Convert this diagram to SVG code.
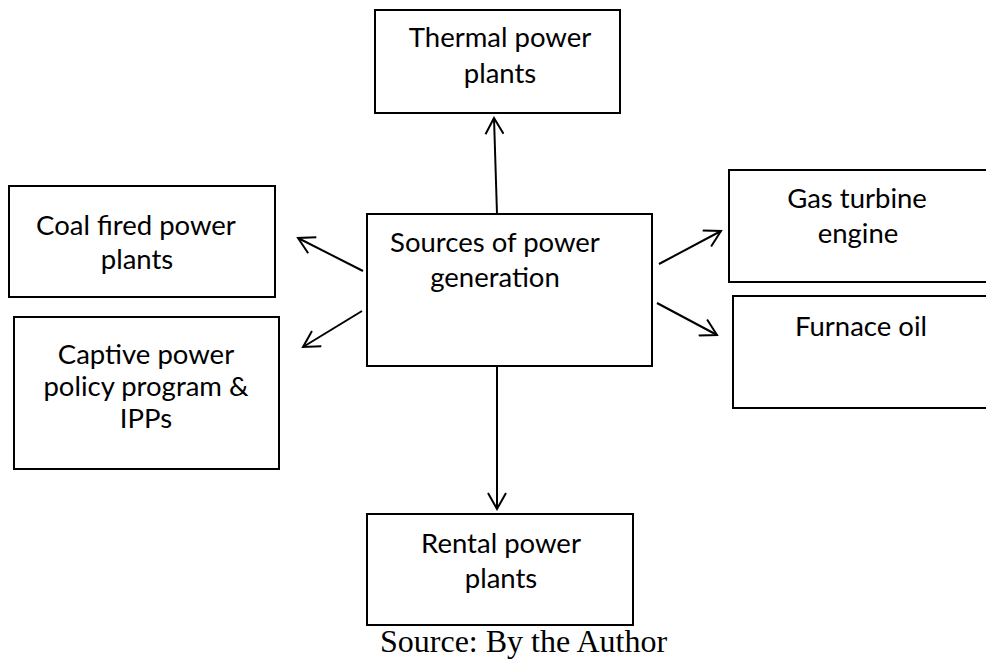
<svg xmlns="http://www.w3.org/2000/svg" width="986" height="660" viewBox="0 0 986 660">
<defs>
<style>
.box{fill:#fff;stroke:#000;stroke-width:2}
.lbl{font-family:Lato,"Liberation Sans",sans-serif;font-size:27.5px;fill:#000;text-anchor:middle}
.src{font-family:"Liberation Serif",serif;font-size:32px;fill:#000}
.conn{stroke:#000;stroke-width:2;fill:none;marker-end:url(#arr)}
</style>
<marker id="arr" viewBox="0 0 20 20" refX="18" refY="10" markerWidth="20" markerHeight="20" markerUnits="userSpaceOnUse" orient="auto">
<path d="M2,1 L18,10 L2,19" fill="none" stroke="#000" stroke-width="2"/>
</marker>
</defs>
<rect width="986" height="660" fill="#fff"/>
<g id="thermal">
<rect class="box" x="375" y="10" width="245" height="103"/>
<text class="lbl" x="500" y="47">Thermal power</text>
<text class="lbl" x="500" y="83">plants</text>
</g>
<g id="sources">
<rect class="box" x="367" y="214" width="285" height="152"/>
<text class="lbl" x="495" y="252">Sources of power</text>
<text class="lbl" x="495" y="287">generation</text>
</g>
<g id="coal">
<rect class="box" x="9" y="186" width="266" height="111"/>
<text class="lbl" x="136" y="235">Coal fired power</text>
<text class="lbl" x="137" y="269">plants</text>
</g>
<g id="captive">
<rect class="box" x="14" y="317" width="265" height="152"/>
<text class="lbl" x="146" y="364">Captive power</text>
<text class="lbl" x="146" y="396">policy program &amp;</text>
<text class="lbl" x="146" y="428">IPPs</text>
</g>
<g id="gas">
<rect class="box" x="729" y="170" width="270" height="112"/>
<text class="lbl" x="857" y="208">Gas turbine</text>
<text class="lbl" x="858" y="243">engine</text>
</g>
<g id="furnace">
<rect class="box" x="733" y="296" width="270" height="112"/>
<text class="lbl" x="861" y="336">Furnace oil</text>
</g>
<g id="rental">
<rect class="box" x="367" y="514" width="266" height="111"/>
<text class="lbl" x="501" y="553">Rental power</text>
<text class="lbl" x="501" y="588">plants</text>
</g>
<g id="connectors">
<line class="conn" x1="497" y1="214" x2="494" y2="118"/>
<line class="conn" x1="363" y1="271" x2="298" y2="238"/>
<line class="conn" x1="362" y1="311" x2="303" y2="347"/>
<line class="conn" x1="659" y1="264" x2="721" y2="231"/>
<line class="conn" x1="657" y1="303" x2="717" y2="335"/>
<line class="conn" x1="497" y1="366" x2="497" y2="509"/>
</g>
<text class="src" x="380" y="652">Source: By the Author</text>
</svg>
